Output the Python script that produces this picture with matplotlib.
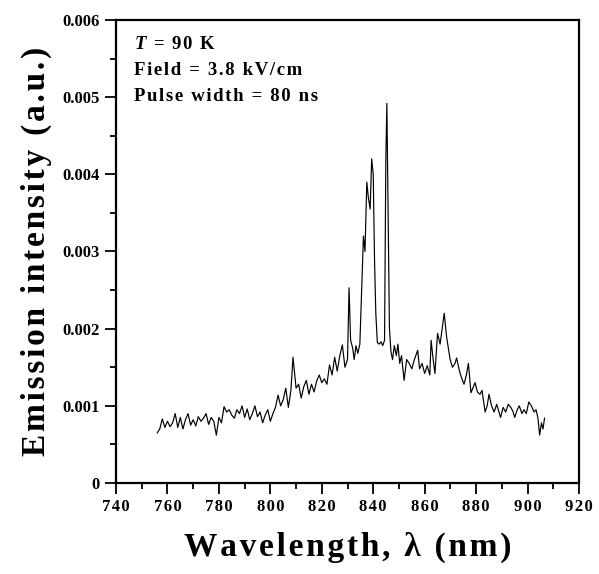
import numpy as np
import matplotlib
matplotlib.use('Agg')
import matplotlib.pyplot as plt
from matplotlib.ticker import MultipleLocator, FuncFormatter

# spectrum (nm, a.u.)
wl = [756, 757, 758, 759, 760, 761, 762, 763, 764, 765,
      766, 767, 768, 769, 770, 771, 772, 773, 774, 775,
      776, 777, 778, 779, 780, 781, 782, 783, 784, 785,
      786, 787, 788, 789, 790, 791, 792, 793, 794, 795,
      796, 797, 798, 799, 800, 801, 802, 803, 804, 805,
      806, 807, 808, 808.8, 809.5, 810, 811, 812, 813, 814,
      815, 816, 817, 818, 819, 820, 821, 822, 823, 824,
      825, 826, 827, 828, 829, 830, 830.6, 831.2, 832, 832.6,
      833.3, 834, 834.8, 835.5, 836.2, 836.8, 837.5, 838.1, 838.8, 839.4,
      840.0, 840.5, 841.0, 841.6, 842.3, 843.0, 843.7, 844.4, 844.9, 845.3,
      845.8, 846.3, 846.9, 847.5, 848.2, 849, 849.6, 850.3, 851, 852,
      853, 854, 855, 856, 857.3, 858, 859, 860, 861, 862,
      862.5, 863.3, 864, 865, 866, 867.6, 868.5, 869.9, 870.8, 871.8,
      872.4, 873.7, 874.5, 875.3, 876.2, 877, 878, 879, 879.6, 880.5,
      881.5, 882.3, 883.5, 884.3, 885, 886, 887, 888, 889.5, 890.5,
      891.5, 892.5, 893.5, 894.3, 895, 896, 896.8, 897.8, 898.6, 899.5,
      900.5, 901.5, 902.5, 903.3, 904, 904.7, 905.4, 906.0, 906.6]
intensity = [0.00065, 0.00070, 0.00083, 0.00072, 0.00080, 0.00073, 0.00078, 0.00090, 0.00072, 0.00085,
             0.00070, 0.00082, 0.00090, 0.00075, 0.00082, 0.00074, 0.00086, 0.00080, 0.00084, 0.00090,
             0.00076, 0.00085, 0.00080, 0.00062, 0.00085, 0.00078, 0.00099, 0.00092, 0.00095, 0.00088,
             0.00084, 0.00095, 0.00090, 0.00100, 0.00085, 0.00096, 0.00082, 0.00090, 0.00100, 0.00086,
             0.00092, 0.00078, 0.00088, 0.00095, 0.00080, 0.00090, 0.00098, 0.00114, 0.00100, 0.00108,
             0.00123, 0.00098, 0.00120, 0.00163, 0.00140, 0.00123, 0.00128, 0.00110, 0.00125, 0.00133,
             0.00115, 0.00128, 0.00118, 0.00132, 0.00140, 0.00130, 0.00135, 0.00128, 0.00153, 0.00140,
             0.00163, 0.00145, 0.00165, 0.00179, 0.00150, 0.00160, 0.00253, 0.00185, 0.00175, 0.00160,
             0.00178, 0.00168, 0.00180, 0.00250, 0.00320, 0.00300, 0.00390, 0.00370, 0.00355, 0.00420,
             0.00400, 0.00290, 0.00220, 0.00182, 0.00180, 0.00183, 0.00178, 0.00185, 0.00420, 0.00492,
             0.00340, 0.00200, 0.00170, 0.00160, 0.00178, 0.00165, 0.00180, 0.00155, 0.00165, 0.00133,
             0.00160, 0.00155, 0.00148, 0.00160, 0.00172, 0.00148, 0.00155, 0.00142, 0.00152, 0.00140,
             0.00185, 0.00160, 0.00142, 0.00194, 0.00180, 0.00220, 0.00190, 0.00160, 0.00150, 0.00155,
             0.00162, 0.00143, 0.00135, 0.00128, 0.00140, 0.00155, 0.00117, 0.00125, 0.00130, 0.00118,
             0.00115, 0.00120, 0.00092, 0.00100, 0.00115, 0.00100, 0.00092, 0.00102, 0.00085, 0.00098,
             0.00092, 0.00102, 0.00098, 0.00093, 0.00085, 0.00095, 0.00100, 0.00090, 0.00095, 0.00090,
             0.00105, 0.00100, 0.00092, 0.00095, 0.00085, 0.00062, 0.00078, 0.00070, 0.00084]

# (italic prefix, rest of the line)
notes = [('T', ' = 90 K'), ('', 'Field = 3.8 kV/cm'), ('', 'Pulse width = 80 ns')]

HS = u'\u200a'   # hair space, the original text is letter spaced


def spaced(s):
    return HS.join(s)


plt.rcParams['font.family'] = 'Liberation Serif'
plt.rcParams['font.weight'] = 'bold'
plt.rcParams['mathtext.fontset'] = 'custom'
plt.rcParams['mathtext.it'] = 'Liberation Serif:italic:bold'
plt.rcParams['mathtext.rm'] = 'Liberation Serif:bold'

fig = plt.figure(figsize=(5.99, 5.74), dpi=100)
ax = fig.add_axes([0.1937, 0.1585, 0.7729, 0.8067])

ax.plot(wl, intensity, color='black', lw=0.85)

ax.set_xlim(740, 920)
ax.set_ylim(0, 0.006)
ax.xaxis.set_major_locator(MultipleLocator(20))
ax.xaxis.set_minor_locator(MultipleLocator(10))
ax.yaxis.set_major_locator(MultipleLocator(0.001))
ax.yaxis.set_minor_locator(MultipleLocator(0.0005))
ax.xaxis.set_major_formatter(FuncFormatter(lambda v, p: spaced('%d' % v)))
ax.yaxis.set_major_formatter(FuncFormatter(lambda v, p: '0' if abs(v) < 1e-9 else '%.3f' % v))

ax.tick_params(which='major', direction='out', length=8, width=1.3, labelsize=12)
ax.tick_params(which='minor', direction='out', length=4, width=1.3)
for sp in ax.spines.values():
    sp.set_linewidth(1.6)

ax.set_xlabel(spaced(u'Wavelength, \u03bb (nm)'), fontsize=24, fontweight='bold', labelpad=12)
ax.set_ylabel(spaced('Emission intensity (a.u.)'), fontsize=24, fontweight='bold', labelpad=8)

for i, (it, rest) in enumerate(notes):
    s = spaced(rest)
    if it:
        s = '$' + it + '$' + HS + s
    ax.text(0.038, 0.946 - i * 0.056, s, transform=ax.transAxes, fontsize=13.5,
            fontweight='bold', va='center', ha='left')

fig.savefig('out.png', dpi=100)
